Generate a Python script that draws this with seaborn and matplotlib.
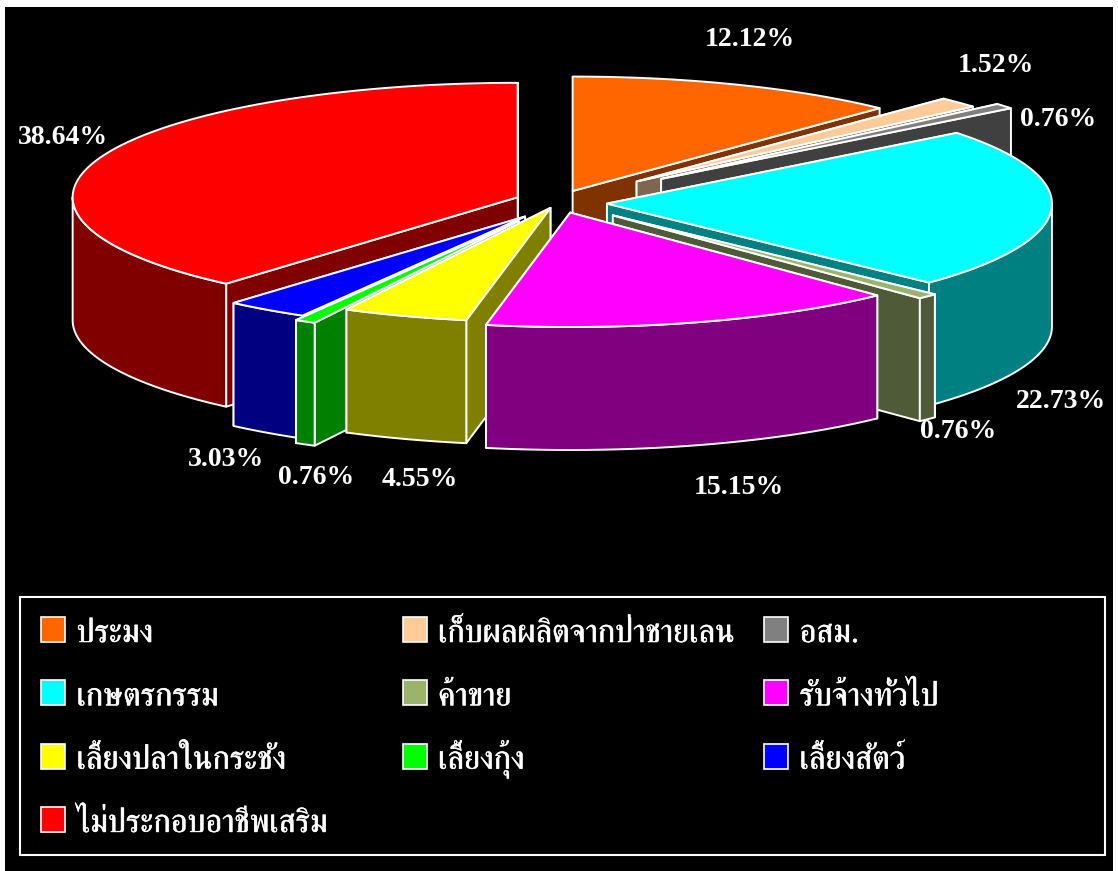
#!/usr/bin/env python

# exploded 3d pie, seaborn has no pie so wedges are filled on a plain axes
import numpy as np
import seaborn as sns
import matplotlib
matplotlib.use("Agg")
import matplotlib.pyplot as plt
import matplotlib.patheffects as pe
from matplotlib.patches import Rectangle

# data
categories = ["ประมง", "เก็บผลผลิตจากป่าชายเลน", "อสม.",
              "เกษตรกรรม", "ค้าขาย", "รับจ้างทั่วไป",
              "เลี้ยงปลาในกระชัง", "เลี้ยงกุ้ง", "เลี้ยงสัตว์",
              "ไม่ประกอบอาชีพเสริม"]
values = [12.12, 1.52, 0.76, 22.73, 0.76, 15.15, 4.55, 0.76, 3.03, 38.64]

# style
top_colors = ["#FF6600", "#FFCC99", "#808080", "#00FFFF", "#9BB36B",
              "#FF00FF", "#FFFF00", "#00FF00", "#0000FF", "#FF0000"]
side_colors = ["#803300", "#806650", "#404040", "#008080", "#4F5B38",
               "#800080", "#808000", "#008000", "#000080", "#800000"]
explode = [42, 110, 135, 50, 79, 47, 20, 80, 55, 42]
nudge_y = [0, 0, 0, 2, 0, 0, 2, 2, 4, 0]
draw_order = [9, 0, 1, 2, 3, 4, 8, 7, 6, 5]
label_xy = [(750, 40), (996, 65), (1058, 119), (1061, 401), (958, 432),
            (739, 487), (420, 479), (316, 477), (226, 460), (63, 138)]
cx, cy = 557, 201
rx, ry = 445, 114.4
depth = 123
lw = 1.4

sns.set_theme(style="white", rc={"axes.facecolor": "black", "figure.facecolor": "white"})
plt.rcParams["font.family"] = ["Liberation Serif", "FreeSerif"]
tops = sns.color_palette(top_colors)
sides = sns.color_palette(side_colors)

fig = plt.figure(figsize=(11.18, 8.71), dpi=100)
ax = fig.add_axes([5 / 1118, 0, 1108 / 1118, 864 / 871])
ax.set_xlim(5, 1113)
ax.set_ylim(871, 7)
ax.set_xticks([])
ax.set_yticks([])
sns.despine(ax=ax, left=True, bottom=True)


def point(x0, y0, deg):
    a = np.radians(deg)
    return x0 + rx * np.sin(a), y0 - ry * np.cos(a)


def face(xs, ys, color):
    ax.fill(xs, ys, facecolor=color, edgecolor="white", linewidth=lw, joinstyle="round")


# wedges clockwise from 12 o'clock, back ones painted first
edges = np.cumsum([0] + values) / sum(values) * 360
for i in draw_order:
    start, end = edges[i], edges[i + 1]
    mid_deg = (start + end) / 2
    mid = np.radians(mid_deg)
    x0 = cx + explode[i] * np.sin(mid)
    y0 = cy - explode[i] * np.cos(mid) * ry / rx + nudge_y[i]

    # the two cut faces, the hidden one first
    cuts = (start, end) if mid_deg < 180 else (end, start)
    for deg in cuts:
        px, py = point(x0, y0, deg)
        face([x0, px, px, x0], [y0, py, py + depth, y0 + depth], sides[i])

    # outer wall, only the part turned to the viewer
    lo, hi = max(start, 90), min(end, 270)
    if hi > lo:
        t = np.linspace(lo, hi, 80)
        px, py = point(x0, y0, t)
        face(np.r_[px, px[::-1]], np.r_[py, py[::-1] + depth], sides[i])

    # top surface
    t = np.linspace(start, end, 120)
    px, py = point(x0, y0, t)
    face(np.r_[x0, px], np.r_[y0, py], tops[i])

# percent labels
for v, (lx, ly) in zip(values, label_xy):
    ax.text(lx, ly, "%.2f%%" % v, color="white", fontsize=20, fontweight="bold",
            family="Liberation Serif", ha="center", va="center")

# legend box
ax.add_patch(Rectangle((20, 597), 1085, 258, facecolor="black", edgecolor="white", linewidth=1.5))
for i, name in enumerate(categories):
    row, col = i // 3, i % 3
    sx = 41 + col * 361.5
    sy = 617 + row * 63.3
    ax.add_patch(Rectangle((sx, sy), 24, 25, facecolor=tops[i], edgecolor="white", linewidth=1.2))
    txt = ax.text(sx + 35.5, sy + 25, name, color="white", fontsize=23.4, family="FreeSerif",
                  ha="left", va="baseline")
    txt.set_path_effects([pe.withStroke(linewidth=0.4, foreground="white")])

fig.savefig("out.png", dpi=100)
